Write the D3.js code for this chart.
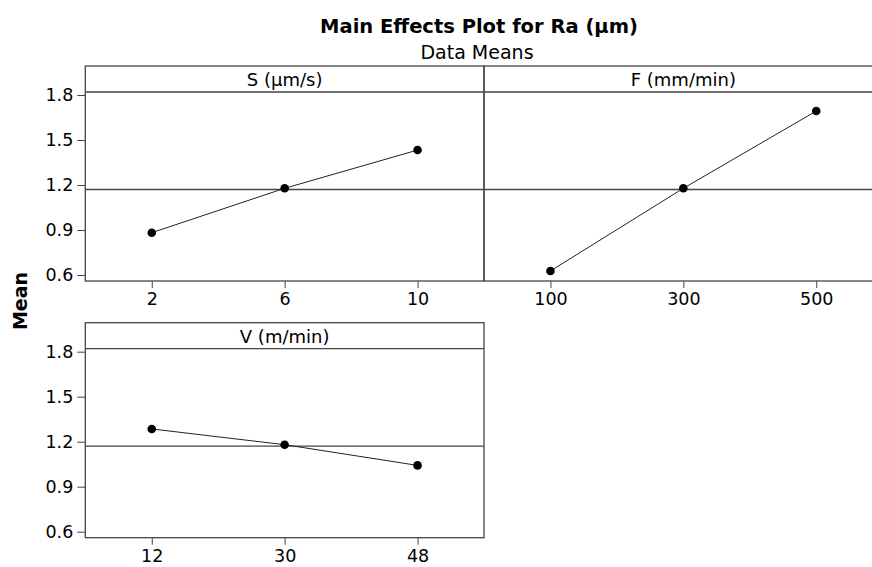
<!DOCTYPE html>
<html>
<head>
<meta charset="utf-8">
<script src="https://cdn.jsdelivr.net/npm/d3@7"></script>
<style>
  html, body { margin: 0; padding: 0; background: #fff; overflow: hidden; }
  text { font-family: "DejaVu Sans", Verdana, sans-serif; fill: #000; }
</style>
</head>
<body>
<div id="chart"></div>
<script>
// factor names and levels
const factors = ["S (µm/s)", "F (mm/min)", "V (m/min)"];
const sLevels = ["2", "6", "10"];
const sMeans = [0.882, 1.178, 1.433];
const fLevels = ["100", "300", "500"];
const fMeans = [0.627, 1.178, 1.693];
const vLevels = ["12", "30", "48"];
const vMeans = [1.285, 1.180, 1.042];
const grandMean = 1.17;
const yTicks = [0.6, 0.9, 1.2, 1.5, 1.8];

const width = 872, height = 567;

const svg = d3.select("#chart")
  .append("svg")
  .attr("width", width)
  .attr("height", height);

// title
svg.append("text")
  .attr("x", 479).attr("y", 33)
  .attr("text-anchor", "middle")
  .style("font-size", "19.5px").style("font-weight", "bold")
  .text("Main Effects Plot for Ra (µm)");

svg.append("text")
  .attr("x", 477).attr("y", 59)
  .attr("text-anchor", "middle")
  .style("font-size", "19px")
  .text("Data Means");

svg.append("text")
  .attr("transform", "translate(27,301) rotate(-90)")
  .attr("text-anchor", "middle")
  .style("font-size", "19px").style("font-weight", "bold")
  .text("Mean");

const panelW = 398.7, stripH = 26, plotH = 189;

const y = d3.scaleLinear().domain([0.56, 1.82]).range([plotH, 0]);

const panels = [
  { name: factors[0], levels: sLevels, means: sMeans, x: 85.3, y: 66, yAxis: true },
  { name: factors[1], levels: fLevels, means: fMeans, x: 484, y: 66, yAxis: false },
  { name: factors[2], levels: vLevels, means: vMeans, x: 85.3, y: 322.7, yAxis: true }
];

panels.forEach(p => {
  const g = svg.append("g").attr("transform", `translate(${p.x},${p.y})`);
  const plot = g.append("g").attr("transform", `translate(0,${stripH})`);

  const x = d3.scalePoint().domain(p.levels).range([0, panelW]).padding(0.5);

  // strip
  g.append("rect")
    .attr("width", panelW).attr("height", stripH + plotH)
    .attr("fill", "none").attr("stroke", "#444").attr("stroke-width", 1.3);
  g.append("line")
    .attr("x1", 0).attr("x2", panelW).attr("y1", stripH).attr("y2", stripH)
    .attr("stroke", "#444").attr("stroke-width", 1.3);
  g.append("text")
    .attr("x", panelW / 2).attr("y", 20)
    .attr("text-anchor", "middle")
    .style("font-size", "18px")
    .text(p.name);

  // reference line at grand mean
  plot.append("line")
    .attr("x1", 0).attr("x2", panelW)
    .attr("y1", y(grandMean)).attr("y2", y(grandMean))
    .attr("stroke", "#444").attr("stroke-width", 1.3);

  // axes
  const xAxis = plot.append("g")
    .attr("transform", `translate(0,${plotH})`)
    .call(d3.axisBottom(x).tickSize(7).tickPadding(5));
  xAxis.select(".domain").remove();
  xAxis.selectAll("line").attr("stroke", "#444");
  xAxis.selectAll("text").style("font-size", "17.5px").style("font-family", "DejaVu Sans");

  if (p.yAxis) {
    const yAxis = plot.append("g")
      .call(d3.axisLeft(y).tickValues(yTicks).tickFormat(d3.format(".1f")).tickSize(8).tickPadding(4));
    yAxis.select(".domain").remove();
    yAxis.selectAll("line").attr("stroke", "#444");
    yAxis.selectAll("text").style("font-size", "17.5px").style("font-family", "DejaVu Sans");
  }

  const pts = p.levels.map((l, i) => ({ level: l, mean: p.means[i] }));

  plot.append("path")
    .datum(pts)
    .attr("fill", "none")
    .attr("stroke", "#222")
    .attr("stroke-width", 1)
    .attr("d", d3.line().x(d => x(d.level)).y(d => y(d.mean)));

  plot.selectAll("circle")
    .data(pts)
    .join("circle")
    .attr("cx", d => x(d.level))
    .attr("cy", d => y(d.mean))
    .attr("r", 4.3)
    .attr("fill", "#000");
});
</script>
</body>
</html>
